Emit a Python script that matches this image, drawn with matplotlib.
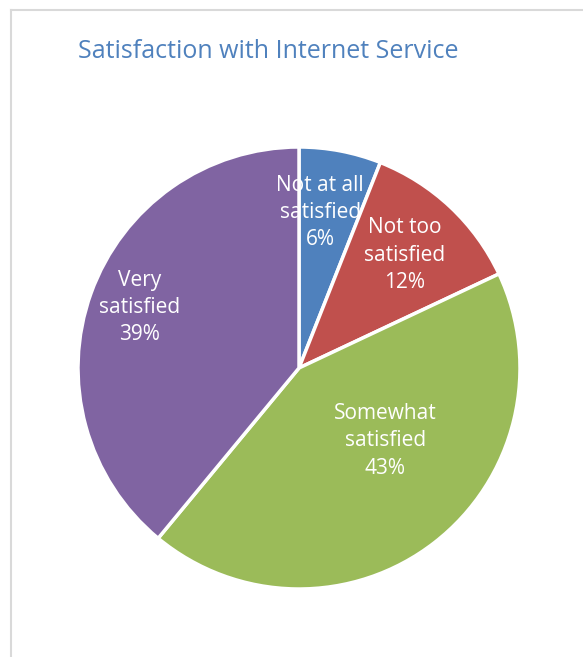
import numpy as np
import matplotlib
matplotlib.use('Agg')
import matplotlib.pyplot as plt

# Data
categories = ['Not at all\nsatisfied', 'Not too\nsatisfied', 'Somewhat\nsatisfied', 'Very\nsatisfied']
shares = [6, 12, 43, 39]
colors = ['#4F81BD', '#C0504D', '#9BBB59', '#8064A2']

# label layout: (radius fraction, angle offset in degrees) per slice
label_layout = [(0.71, 3), (0.70, 0), (0.51, 12), (0.77, -1)]

W, H = 583, 657
fig = plt.figure(figsize=(W / 100, H / 100), dpi=100)
fig.patch.set_facecolor('white')

# chart area border (light gray, left and top visible)
fig.add_artist(plt.Line2D([11 / W, 11 / W], [0, 1 - 10 / H], color='#D9D9D9', lw=1.5))
fig.add_artist(plt.Line2D([11 / W, 1], [1 - 10 / H, 1 - 10 / H], color='#D9D9D9', lw=1.5))

cx, cy, r = 299, 368, 221
ax = fig.add_axes([(cx - r) / W, (H - cy - r) / H, 2 * r / W, 2 * r / H])
wedges, _ = ax.pie(shares, colors=colors, startangle=90, counterclock=False,
                   radius=1, wedgeprops=dict(edgecolor='white', linewidth=2.5))
ax.set_xlim(-1, 1)
ax.set_ylim(-1, 1)
ax.set_aspect('equal')
ax.axis('off')

for w, lab, val, (dist, off) in zip(wedges, categories, shares, label_layout):
    ang = np.deg2rad((w.theta1 + w.theta2) / 2 + off)
    ax.text(dist * np.cos(ang), dist * np.sin(ang), f'{lab}\n{val}%',
            ha='center', va='center', color='white', fontsize=15,
            family='Open Sans', linespacing=1.4)

fig.text(268 / W, 1 - 51 / H, 'Satisfaction with Internet Service',
         ha='center', va='center', color='#4F81BD', fontsize=18, family='Open Sans')

fig.savefig('out.png', dpi=100, facecolor='white')
